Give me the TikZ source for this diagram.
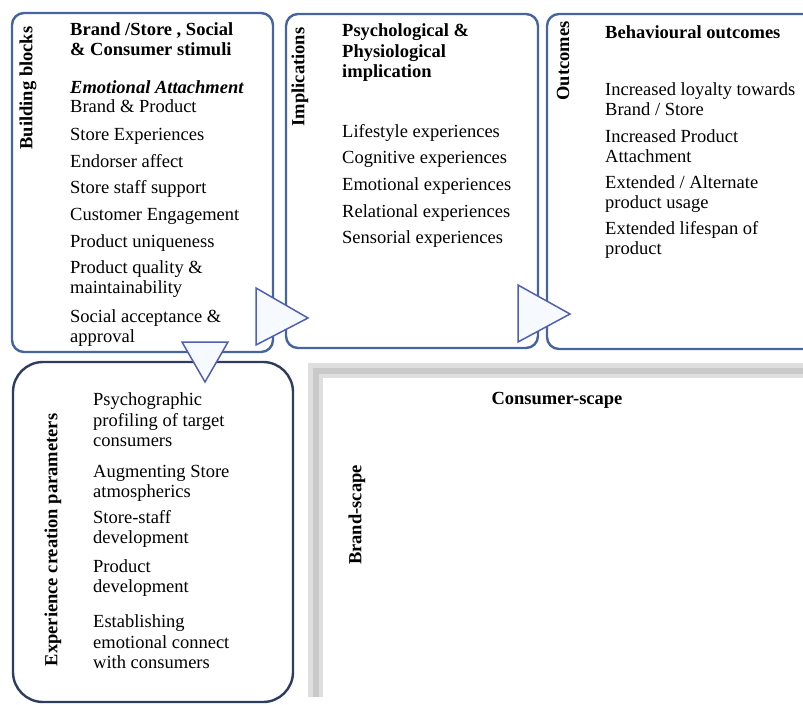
\documentclass[tikz,border=0pt]{standalone}
\usepackage{fontspec}
\setmainfont{Liberation Serif}
\definecolor{boxblue}{RGB}{70,100,160}
\definecolor{boxnavy}{RGB}{45,60,95}
\definecolor{tipblue}{RGB}{80,96,176}
\definecolor{tipfill}{RGB}{246,249,253}
\newcommand{\panelfont}{\fontsize{18.5}{20.5}\selectfont}
\begin{document}
\begin{tikzpicture}[x=1pt, y=-1pt,
  panel/.style={draw=boxblue, line width=2.4pt, rounded corners=12pt, fill=white},
  pointer/.style={draw=tipblue, line width=1.5pt, fill=tipfill, line join=miter},
  txt/.style={anchor=west, inner sep=0pt, align=left, font=\panelfont, text height=13pt, text depth=2pt},
  head/.style={txt, font=\panelfont\bfseries},
  side/.style={rotate=90, inner sep=0pt, font=\panelfont\bfseries}]
\useasboundingbox (0,0) rectangle (803,704);
\clip (0,0) rectangle (803,704);
% panels
\draw[panel] (12,13) rectangle (273,352);
\draw[panel] (286,14) rectangle (538,348);
\draw[panel] (547,14) rectangle (830,349);
\draw[panel, draw=boxnavy, rounded corners=30pt] (13,362) rectangle (293,702);
% scape frame
\draw[gray!25, line width=15pt, line cap=butt, line join=miter] (315.5,697) -- (315.5,370.5) -- (810,370.5);
\draw[gray!42, line width=6pt, line cap=butt, line join=miter] (315.5,697) -- (315.5,370.5) -- (810,370.5);
% pointers
\draw[pointer] (256,288) -- (308,318) -- (256,345) -- cycle;
\draw[pointer] (518,285) -- (570,314) -- (518,342) -- cycle;
\draw[pointer] (182,342) -- (228,342) -- (205,382) -- cycle;
% building blocks (multi-line texts sit at their last line)
\node[side] (bbl) at (28,88) {Building blocks};
\node[head] (bhd) at (70,50) {Brand /Store , Social\\\& Consumer stimuli};
\node[txt, font=\panelfont\bfseries\itshape] (bemo) at (70,88) {Emotional Attachment};
\node[txt] (b1) at (70,107) {Brand \& Product};
\node[txt] (b2) at (70,135) {Store Experiences};
\node[txt] (b3) at (70,162) {Endorser affect};
\node[txt] (b4) at (70,188) {Store staff support};
\node[txt] (b5) at (70,215) {Customer Engagement};
\node[txt] (b6) at (70,242) {Product uniqueness};
\node[txt] (b7) at (70,288) {Product quality \&\\maintainability};
\node[txt] (b8) at (70,337) {Social acceptance \&\\approval};
% implications
\node[side] (ibl) at (300,77) {Implications};
\node[head] (ihd) at (342,72) {Psychological \&\\Physiological\\implication};
\node[txt] (i1) at (342,132) {Lifestyle experiences};
\node[txt] (i2) at (342,158) {Cognitive experiences};
\node[txt] (i3) at (342,185) {Emotional experiences};
\node[txt] (i4) at (342,212) {Relational experiences};
\node[txt] (i5) at (342,238) {Sensorial experiences};
% outcomes
\node[side] (obl) at (563,61) {Outcomes};
\node[head] (ohd) at (605,33) {Behavioural outcomes};
\node[txt] (o1) at (605,110) {Increased loyalty towards\\Brand / Store};
\node[txt] (o2) at (605,157) {Increased Product\\Attachment};
\node[txt] (o3) at (605,203) {Extended / Alternate\\product usage};
\node[txt] (o4) at (605,249) {Extended lifespan of\\product};
% experience creation
\node[side] (ebl) at (53,540) {Experience creation parameters};
\node[txt] (e1) at (93,441) {Psychographic\\profiling of target\\consumers};
\node[txt] (e2) at (93,492) {Augmenting Store\\atmospherics};
\node[txt] (e3) at (93,538) {Store-staff\\development};
\node[txt] (e4) at (93,587) {Product\\development};
\node[txt] (e5) at (93,663) {Establishing\\emotional connect\\with consumers};
% scapes
\node[font=\panelfont\bfseries, inner sep=0pt] (cscape) at (557,400) {Consumer-scape};
\node[side] (bscape) at (357,515) {Brand-scape};
\end{tikzpicture}
\end{document}
